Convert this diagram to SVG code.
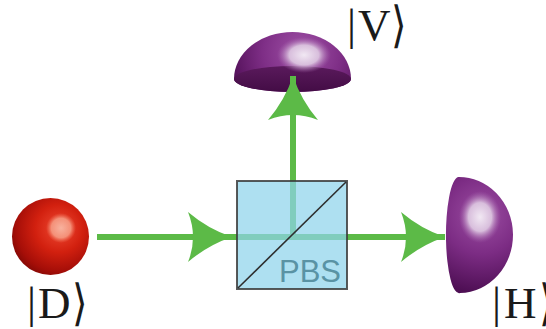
<svg xmlns="http://www.w3.org/2000/svg" width="546" height="329" viewBox="0 0 546 329">
  <defs>
    <style>
      .beam { stroke: #5cba47; stroke-width: 6; fill: none; }
      .ket { font-family: "Liberation Serif", "DejaVu Serif", serif; font-size: 45px; fill: #1a1a1a; }
      .bra { font-family: "DejaVu Serif", "Liberation Serif", serif; font-size: 42px; fill: #1a1a1a; }
      .label { font-family: "Liberation Sans", Arial, sans-serif; font-size: 31px; fill: #5a93a4; }
    </style>
    <!-- source sphere shading -->
    <radialGradient id="redBody" gradientUnits="userSpaceOnUse" cx="58" cy="229" r="53" fx="60" fy="228">
      <stop offset="0" stop-color="#ef4a33"/>
      <stop offset="0.45" stop-color="#d2200f"/>
      <stop offset="0.8" stop-color="#a50e08"/>
      <stop offset="1" stop-color="#780604"/>
    </radialGradient>
    <radialGradient id="redSpot" gradientUnits="userSpaceOnUse" cx="61" cy="228" r="15">
      <stop offset="0" stop-color="#f8b29e"/>
      <stop offset="0.65" stop-color="#f49078"/>
      <stop offset="1" stop-color="#ee6a52" stop-opacity="0"/>
    </radialGradient>
    <!-- detector dome shading -->
    <radialGradient id="domeTop" gradientUnits="userSpaceOnUse" cx="302" cy="52" r="72">
      <stop offset="0" stop-color="#a052a7"/>
      <stop offset="0.55" stop-color="#7e2e86"/>
      <stop offset="1" stop-color="#54115a"/>
    </radialGradient>
    <radialGradient id="domeRight" gradientUnits="userSpaceOnUse" cx="482" cy="215" r="78">
      <stop offset="0" stop-color="#9c4ea3"/>
      <stop offset="0.5" stop-color="#7c2c84"/>
      <stop offset="1" stop-color="#4e0f54"/>
    </radialGradient>
    <radialGradient id="shine">
      <stop offset="0" stop-color="#f1e8f3"/>
      <stop offset="0.55" stop-color="#d8bedc"/>
      <stop offset="1" stop-color="#a665ad" stop-opacity="0"/>
    </radialGradient>
    <linearGradient id="faceTop" x1="0" y1="0" x2="0" y2="1">
      <stop offset="0" stop-color="#5a1a5c"/>
      <stop offset="1" stop-color="#430c45"/>
    </linearGradient>
    <marker id="head" markerUnits="userSpaceOnUse" markerWidth="50" markerHeight="54" viewBox="0 0 50 54" refX="46" refY="27" orient="auto">
      <path d="M46,27 Q22,19 2,2 Q12,27 2,52 Q22,35 46,27 Z" fill="#5cba47"/>
    </marker>
  </defs>

  <!-- photon source -->
  <g id="source">
    <circle cx="50.5" cy="236.5" r="38.5" fill="url(#redBody)"/>
    <circle cx="61" cy="228" r="15" fill="url(#redSpot)"/>
    <text class="ket" x="27" y="318">|</text>
    <text class="ket" x="38" y="318">D</text>
    <text class="bra" transform="translate(72,320) scale(0.95,1.18)">⟩</text>
  </g>

  <!-- detector for the reflected (V) port -->
  <g id="detector-v">
    <path d="M234,79 A58.5,47 0 0 1 351,79 A58.5,13 0 0 1 234,79 Z" fill="url(#domeTop)"/>
    <ellipse cx="292.5" cy="79" rx="58.5" ry="13" fill="url(#faceTop)"/>
    <ellipse cx="304" cy="55" rx="27" ry="18" fill="url(#shine)"/>
    <text class="ket" x="347" y="40">|</text>
    <text class="ket" x="358" y="40">V</text>
    <text class="bra" transform="translate(391,42) scale(0.95,1.18)">⟩</text>
  </g>

  <!-- detector for the transmitted (H) port -->
  <g id="detector-h">
    <path d="M458,177 A54,58 0 0 1 460,293 A13,58 0 0 1 458,177 Z" fill="url(#domeRight)"/>
    <ellipse cx="480" cy="217" rx="21" ry="26" fill="url(#shine)"/>
    <text class="ket" x="492" y="318">|</text>
    <text class="ket" x="504" y="318">H</text>
    <text class="bra" transform="translate(539,320) scale(0.95,1.18)">⟩</text>
  </g>

  <!-- beams -->
  <g id="connectors">
    <line class="beam" x1="97" y1="237" x2="232" y2="237" marker-end="url(#head)"/>
    <line class="beam" x1="232" y1="237" x2="445" y2="237" marker-end="url(#head)"/>
    <line class="beam" x1="293" y1="237" x2="293" y2="76" marker-end="url(#head)"/>
  </g>

  <!-- polarizing beam splitter cube -->
  <g id="pbs">
    <rect x="237" y="181" width="110" height="108" fill="#8fd4ec" fill-opacity="0.72" stroke="#3c3c3c" stroke-opacity="0.85" stroke-width="2"/>
    <line x1="238" y1="288" x2="346" y2="182" stroke="#2e2e2e" stroke-width="1.6"/>
    <text class="label" x="279" y="282">PBS</text>
  </g>
</svg>
